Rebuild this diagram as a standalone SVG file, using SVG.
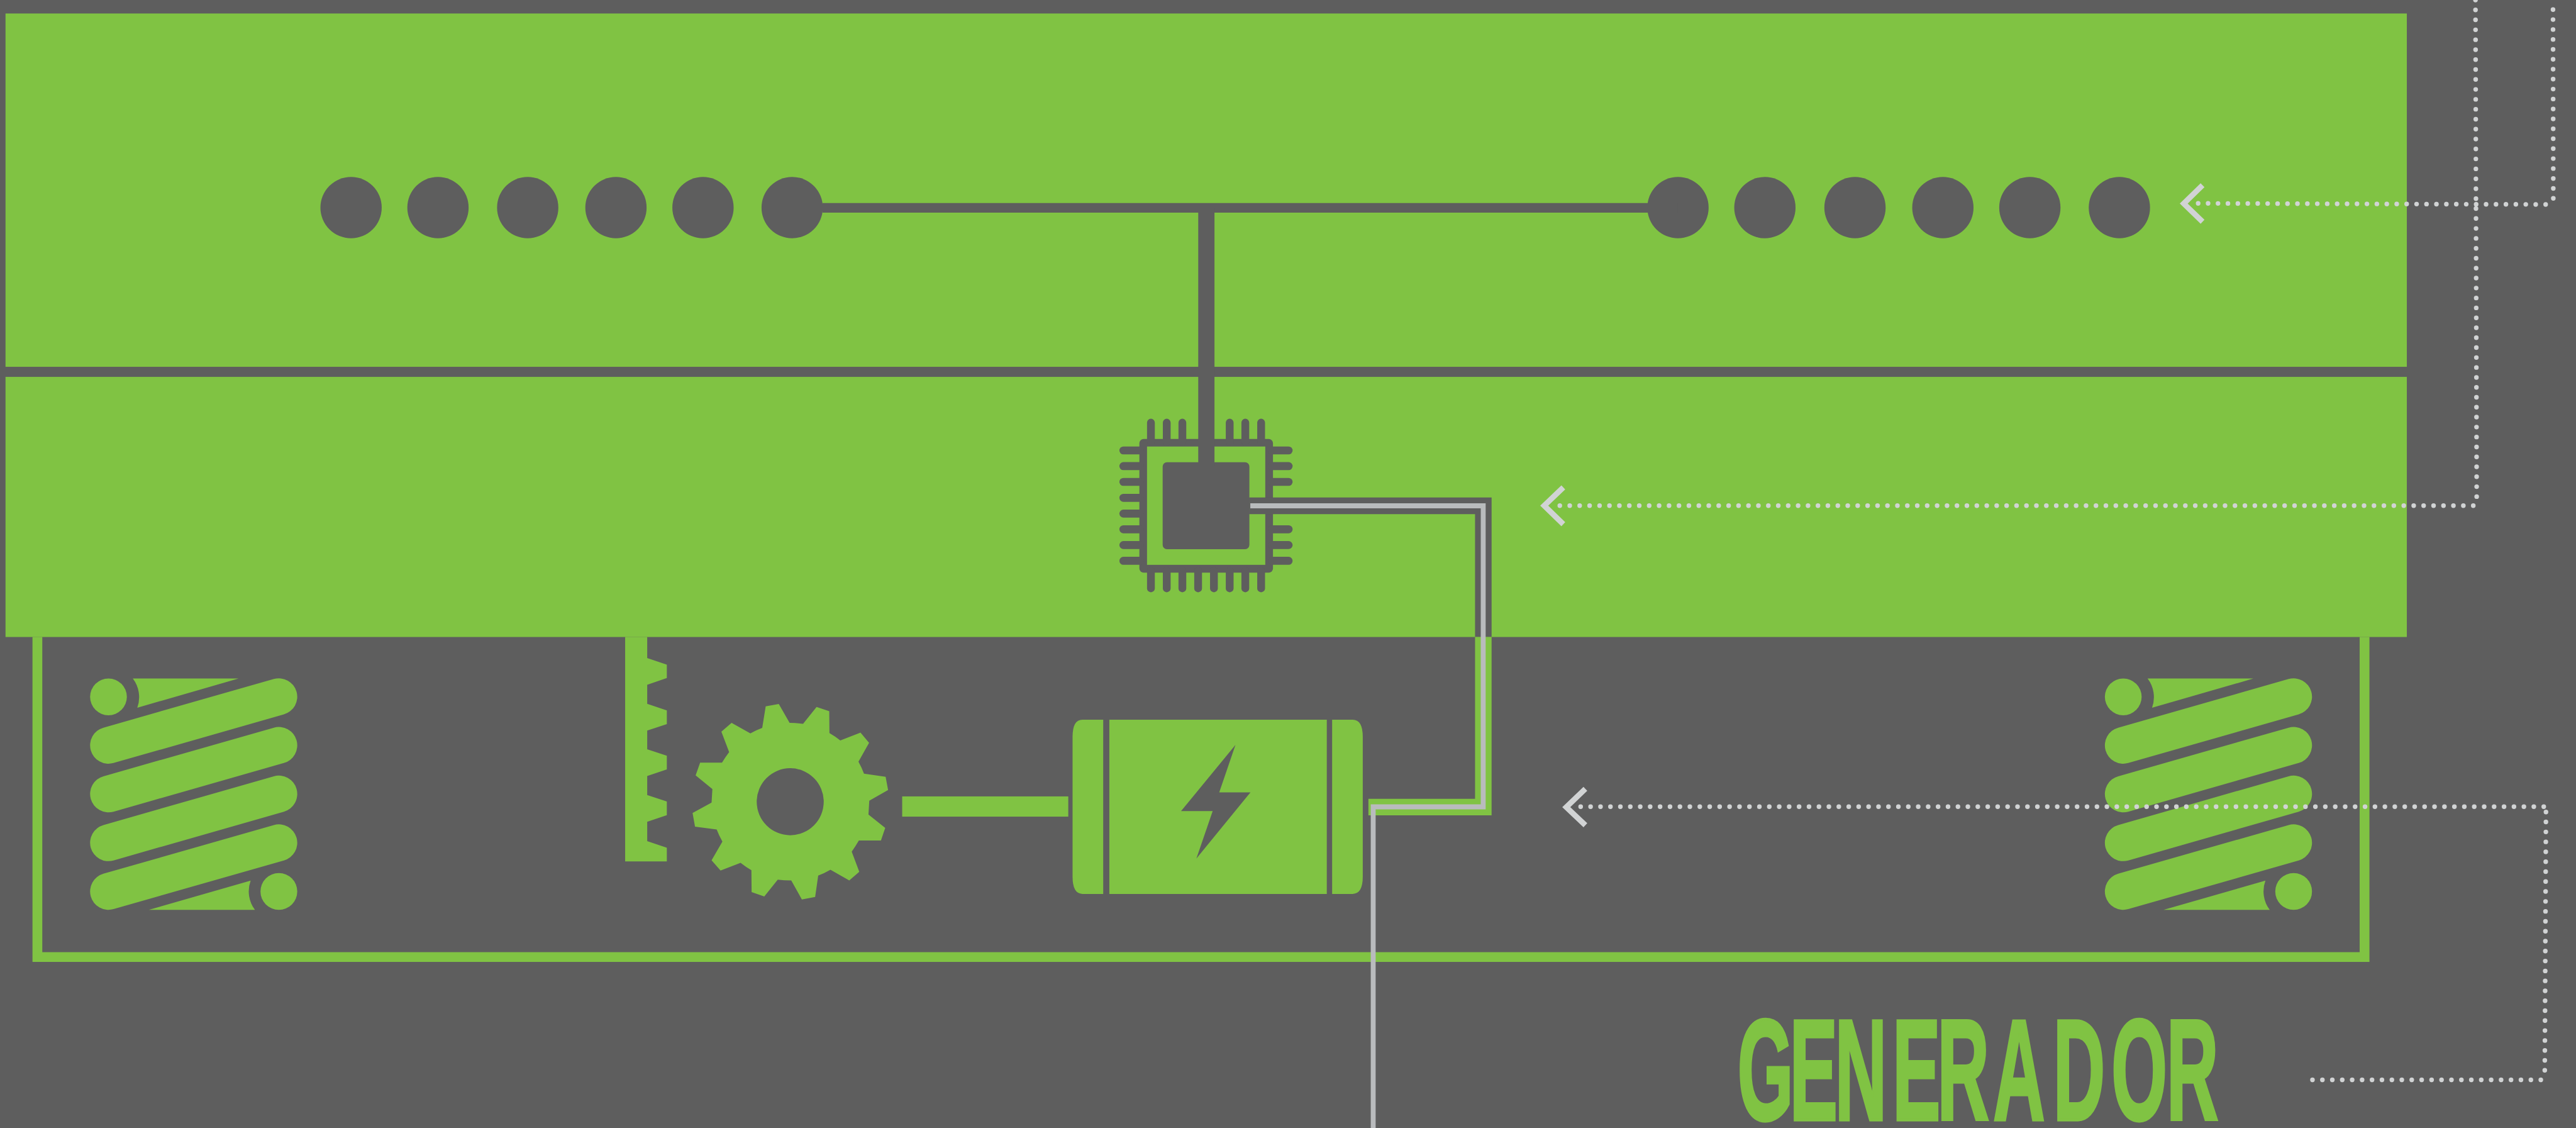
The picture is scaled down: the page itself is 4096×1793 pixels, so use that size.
<svg xmlns="http://www.w3.org/2000/svg" width="4096" height="1793" viewBox="0 0 4096 1793">
<style>
.g{fill:#80C343}
.d{fill:#5E5E5E}
.pin{fill:#5E5E5E}
.dot{fill:none;stroke:#D1D3D4;stroke-width:7.6;stroke-linecap:round;stroke-dasharray:0 16.2}
.chev{fill:none;stroke:#D1D3D4;stroke-width:9;stroke-linejoin:miter;stroke-miterlimit:10}
.txt{font-family:"Liberation Sans",Arial,sans-serif;font-weight:700;font-size:234px;fill:#80C343;stroke:#80C343;stroke-width:5}
</style>
<defs>
<g id="spring-shape">
<circle class="g" cx="177" cy="1136.6" r="30"/>
<path class="g" d="M216.7 1106.8H389.3L224 1154.3A50 50 0 0 0 216.7 1106.8Z"/>
<g fill="none" stroke="#80C343" stroke-width="60" stroke-linecap="round">
<path d="M177 1215.7L455 1136.4"/>
<path d="M177 1295L455 1215.7"/>
<path d="M177 1374.6L455 1295"/>
<path d="M177 1454L455 1374.6"/>
</g>
<path class="g" d="M242.7 1484H416A50 50 0 0 1 409 1436.4Z"/>
<circle class="g" cx="455" cy="1454" r="30"/>
</g>
</defs>
<rect id="background" class="d" width="4096" height="1793"/>
<g transform="scale(0.97454)">
<g id="panel-top"><rect class="g" x="9" y="22" width="3918" height="576.3"/></g>
<g id="panel-middle"><rect class="g" x="9" y="614.7" width="3918" height="424.3"/></g>
<g id="frame"><path d="M61 1039V1561H3858V1039" fill="none" stroke="#80C343" stroke-width="16"/></g>
<g id="lights-left" class="d">
<circle cx="572.8" cy="338.6" r="50"/><circle cx="714.6" cy="338.6" r="50"/><circle cx="861" cy="338.6" r="50"/><circle cx="1005" cy="338.6" r="50"/><circle cx="1147" cy="338.6" r="50"/><circle cx="1292.5" cy="338.6" r="50"/>
</g>
<g id="lights-right" class="d">
<circle cx="2737.8" cy="338.6" r="50"/><circle cx="2879.6" cy="338.6" r="50"/><circle cx="3026.6" cy="338.6" r="50"/><circle cx="3170" cy="338.6" r="50"/><circle cx="3311.9" cy="338.6" r="50"/><circle cx="3458" cy="338.6" r="50"/>
</g>
<g id="chip">
<rect class="d" x="1859" y="716" width="218" height="218" rx="7"/>
<rect class="g" x="1871.5" y="728.3" width="192.9" height="193"/>
<rect class="d" x="1897" y="754" width="141.5" height="141.7" rx="7"/>
<rect class="pin" x="1871.5" y="683" width="12.7" height="44" rx="6.3"/><rect class="pin" x="1897.3" y="683" width="12.7" height="44" rx="6.3"/><rect class="pin" x="1922.8" y="683" width="12.7" height="44" rx="6.3"/><rect class="pin" x="2000" y="683" width="12.7" height="44" rx="6.3"/><rect class="pin" x="2025.5" y="683" width="12.7" height="44" rx="6.3"/><rect class="pin" x="2051.3" y="683" width="12.7" height="44" rx="6.3"/>
<rect class="pin" x="1871.5" y="925" width="12.7" height="41" rx="6.3"/><rect class="pin" x="1897.3" y="925" width="12.7" height="41" rx="6.3"/><rect class="pin" x="1922.8" y="925" width="12.7" height="41" rx="6.3"/><rect class="pin" x="1948.5" y="925" width="12.7" height="41" rx="6.3"/><rect class="pin" x="1974.3" y="925" width="12.7" height="41" rx="6.3"/><rect class="pin" x="2000" y="925" width="12.7" height="41" rx="6.3"/><rect class="pin" x="2025.5" y="925" width="12.7" height="41" rx="6.3"/><rect class="pin" x="2051.3" y="925" width="12.7" height="41" rx="6.3"/>
<rect class="pin" x="1826.4" y="728.2" width="40" height="13" rx="6.5"/><rect class="pin" x="1826.4" y="753.8" width="40" height="13" rx="6.5"/><rect class="pin" x="1826.4" y="779.5" width="40" height="13" rx="6.5"/><rect class="pin" x="1826.4" y="805.5" width="40" height="13" rx="6.5"/><rect class="pin" x="1826.4" y="831.2" width="40" height="13" rx="6.5"/><rect class="pin" x="1826.4" y="856.8" width="40" height="13" rx="6.5"/><rect class="pin" x="1826.4" y="882.5" width="40" height="13" rx="6.5"/><rect class="pin" x="1826.4" y="908.2" width="40" height="13" rx="6.5"/>
<rect class="pin" x="2069" y="728.2" width="40" height="13" rx="6.5"/><rect class="pin" x="2069" y="753.8" width="40" height="13" rx="6.5"/><rect class="pin" x="2069" y="779.5" width="40" height="13" rx="6.5"/><rect class="pin" x="2069" y="856.8" width="40" height="13" rx="6.5"/><rect class="pin" x="2069" y="882.5" width="40" height="13" rx="6.5"/><rect class="pin" x="2069" y="908.2" width="40" height="13" rx="6.5"/>
</g>
<g id="spring-left"><use href="#spring-shape"/></g>
<g id="spring-right"><use href="#spring-shape" x="3287.3"/></g>
<g id="rack"><path class="g" d="M1020 1039H1056V1073.3L1088 1084V1106L1056 1117V1148L1088 1158.7V1181L1056 1191.7V1222L1088 1232.7V1255L1056 1265.7V1296.7L1088 1307.3V1329.7L1056 1340.3V1372L1088 1382.7V1405H1020Z"/></g>
<g id="gear"><path class="g" fill-rule="evenodd" transform="translate(1000 1040) scale(0.33333)" d="M748 336L812 325L865 417Q900 417 931 422L997 339L1059 360L1060 467Q1088 483 1113 503L1212 465L1254 515L1202 607Q1218 635 1229 666L1335 681L1347 746L1255 798L1251 866L1333 931L1312 993L1204 993Q1188 1021 1169 1047L1206 1146L1157 1188L1065 1136Q1036 1153 1005 1164L990 1269L925 1281L873 1188Q840 1188 807 1184L741 1267L679 1245L678 1138Q650 1122 625 1102L527 1140L483 1090L536 998Q520 970 508 939L402 925L390 858L483 807L487 741L405 674L427 612L534 612Q550 585 569 560L531 460L581 417L673 469Q701 453 731 442ZM868 639A163.500 163.500 0 1 0 868 967A163.500 163.500 0 1 0 868 639Z"/></g>
<g id="generator">
<rect class="g" x="1472" y="1299" width="271" height="33"/>
<path class="g" d="M1800 1174H1766Q1750 1174 1750 1202V1430Q1750 1458 1766 1458H1800Z"/>
<path class="g" fill-rule="evenodd" d="M1810 1174H2164.800V1458H1810ZM2015.800 1215L1927 1323H1978.600L1952 1400.300L2040.300 1292.300H1989.300Z"/>
<path class="g" d="M2173.500 1174H2207Q2223.500 1174 2223.500 1202V1430Q2223.500 1458 2207 1458H2173.500Z"/>
</g>
<g id="label"><text class="txt" transform="translate(0 1827) scale(0.5 1)" x="5670 5840 5988 6176 6322 6504 6700 6890 7070" y="0">GENERADOR</text></g>
<g id="connectors">
<path d="M1342 339H2737" fill="none" stroke="#5E5E5E" stroke-width="15.700"/>
<path d="M1968.300 339V760" fill="none" stroke="#5E5E5E" stroke-width="26.500"/>
<path d="M2038 825H2420.200V1039" fill="none" stroke="#5E5E5E" stroke-width="27"/>
<path d="M2420.200 1039V1316.300H2232.700" fill="none" stroke="#80C343" stroke-width="27"/>
<path d="M2040 825H2420V1316H2240.500V1840" fill="none" stroke="#B9BBBD" stroke-width="8"/>
<path class="dot" d="M3586.500 331.700L4166 333.500"/>
<path class="dot" d="M4165.500 15.700L4166 325"/>
<path class="dot" d="M4039 0L4041 825"/>
<path class="dot" d="M2545 824.700H4041.700"/>
<path class="dot" d="M2579 1315.700H4155"/>
<path class="dot" d="M4154 1324.500L4152 1761"/>
<path class="dot" d="M3773 1761.300H4152"/>
<path class="chev" d="M3593.700 302L3563 332L3593.700 361.700"/>
<path class="chev" d="M2550.700 795L2519.500 824.700L2550.700 855"/>
<path class="chev" d="M2586.700 1286.600L2555.500 1316.500L2586.700 1346"/>
</g>
</g>
</svg>
